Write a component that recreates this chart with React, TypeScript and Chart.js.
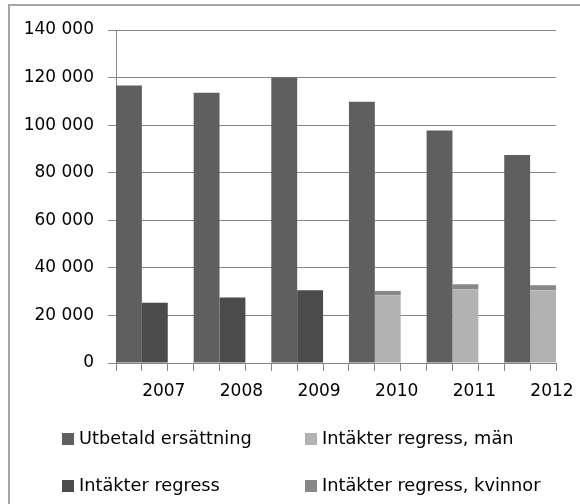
import React, { useEffect, useRef } from 'react';
import { Chart, registerables } from 'chart.js';

Chart.register(...registerables);

// ---- Data ----
const years = ['2007', '2008', '2009', '2010', '2011', '2012'];
const utbetald = [116700, 113600, 120000, 109800, 97800, 87500];
const regress = [25300, 27500, 30600, null, null, null];
const regressMan = [null, null, null, 28500, 31000, 30600];
const regressKvinnor = [null, null, null, 1800, 2100, 2100];

const seriesNames = [
  'Utbetald ersättning',
  'Intäkter regress',
  'Intäkter regress, män',
  'Intäkter regress, kvinnor',
];
const seriesColors = ['#5f5f5f', '#4b4b4b', '#b2b2b2', '#878787'];
const seriesStacks = ['a', 'b', 'b', 'b'];
const seriesValues = [utbetald, regress, regressMan, regressKvinnor];

const yMin = 0;
const yMax = 140000;
const yStep = 20000;

// legend order as laid out (rows of two)
const legendRows = [
  [0, 2],
  [1, 3],
];

const FONT = '"DejaVu Sans", "Liberation Sans", sans-serif';
const GRID = '#868686';
const FRAME = '#a6a6a6';

const fmt = (v: number) => String(Math.round(v)).replace(/\B(?=(\d{3})+(?!\d))/g, ' ');

const toPoints = (values: (number | null)[]) =>
  values
    .map((v, i) => (v == null ? null : { x: i, y: v }))
    .filter((p) => p !== null);

// draws the chart's outer frame (top and left edges; the rest is cropped away)
const framePlugin = {
  id: 'frame',
  beforeDraw(chart: any) {
    const ctx = chart.ctx;
    ctx.save();
    ctx.fillStyle = FRAME;
    ctx.fillRect(8, 4, chart.width - 8, 2);
    ctx.fillRect(8, 4, 2, chart.height - 4);
    ctx.restore();
  },
};

export default function App() {
  const canvasRef = useRef<HTMLCanvasElement | null>(null);

  useEffect(() => {
    if (!canvasRef.current) return;
    // each category = 3 slots: two bar slots + one gap slot
    const xMin = -1 / 3;
    const xMax = years.length - 1 + 1 / 3;

    const chart = new Chart(canvasRef.current, {
      type: 'bar',
      data: {
        datasets: seriesNames.map((name, s) => ({
          label: name,
          data: toPoints(seriesValues[s]) as any,
          backgroundColor: seriesColors[s],
          borderWidth: 0,
          stack: seriesStacks[s],
          xAxisID: 'x',
          yAxisID: 'y',
          categoryPercentage: 2 / 3,
          barPercentage: 1,
        })),
      },
      plugins: [framePlugin],
      options: {
        animation: false,
        responsive: true,
        maintainAspectRatio: false,
        layout: { padding: { left: 8, top: 30, right: 24, bottom: 94 } },
        plugins: {
          legend: { display: false },
          tooltip: { enabled: false },
        },
        scales: {
          x: {
            type: 'linear',
            display: false,
            min: xMin,
            max: xMax,
            offset: false,
            grid: { offset: false },
            afterBuildTicks: (s: any) => {
              s.ticks = years.map((_, i) => ({ value: i }));
            },
          },
          xAxis: {
            type: 'linear',
            position: 'bottom',
            axis: 'x',
            min: xMin,
            max: xMax,
            offset: false,
            grid: {
              offset: false,
              drawOnChartArea: false,
              drawTicks: true,
              tickLength: 8,
              color: GRID,
              lineWidth: 1,
            },
            border: { display: true, color: GRID, width: 1 },
            afterBuildTicks: (s: any) => {
              s.ticks = Array.from({ length: years.length * 3 }, (_, k) => ({ value: xMin + k / 3 }));
            },
            afterFit: (s: any) => {
              s.height = 47;
              s.paddingLeft = 0;
              s.paddingRight = 0;
            },
            ticks: {
              autoSkip: false,
              maxRotation: 0,
              minRotation: 0,
              padding: 10,
              labelOffset: -4,
              color: '#000',
              font: { family: FONT, size: 17 },
              callback: (_v: any, idx: number) => (idx % 3 === 2 ? years[(idx - 2) / 3] : ''),
            },
          } as any,
          y: {
            type: 'linear',
            min: yMin,
            max: yMax,
            stacked: true,
            grid: { color: GRID, tickLength: 8, lineWidth: 1 },
            border: { display: true, color: GRID, width: 1 },
            afterFit: (s: any) => {
              s.width = 108;
            },
            ticks: {
              stepSize: yStep,
              padding: 14,
              color: '#000',
              font: { family: FONT, size: 17 },
              callback: (v: any) => fmt(Number(v)),
            },
          },
        },
      },
    });
    return () => chart.destroy();
  }, []);

  return (
    <div
      style={{
        position: 'absolute',
        left: 0,
        top: 0,
        width: 580,
        height: 504,
        overflow: 'hidden',
        background: '#fff',
        fontFamily: FONT,
      }}
    >
      <div style={{ position: 'absolute', left: 0, top: 0, width: 580, height: 504 }}>
        <canvas ref={canvasRef} />
      </div>
      <div style={{ position: 'absolute', left: 62, top: 428 }}>
        {legendRows.map((row, r) => (
          <div key={r} style={{ display: 'flex', height: 21, marginBottom: 26 }}>
            {row.map((s, c) => (
              <div
                key={s}
                style={{
                  display: 'flex',
                  alignItems: 'center',
                  width: c === 0 ? 243 : 250,
                  height: 21,
                }}
              >
                <span
                  style={{
                    display: 'inline-block',
                    width: 12,
                    height: 12,
                    background: seriesColors[s],
                    marginRight: 5,
                    flex: 'none',
                  }}
                />
                <span style={{ fontSize: 17.75, color: '#000', whiteSpace: 'nowrap', lineHeight: '21px' }}>
                  {seriesNames[s]}
                </span>
              </div>
            ))}
          </div>
        ))}
      </div>
    </div>
  );
}
